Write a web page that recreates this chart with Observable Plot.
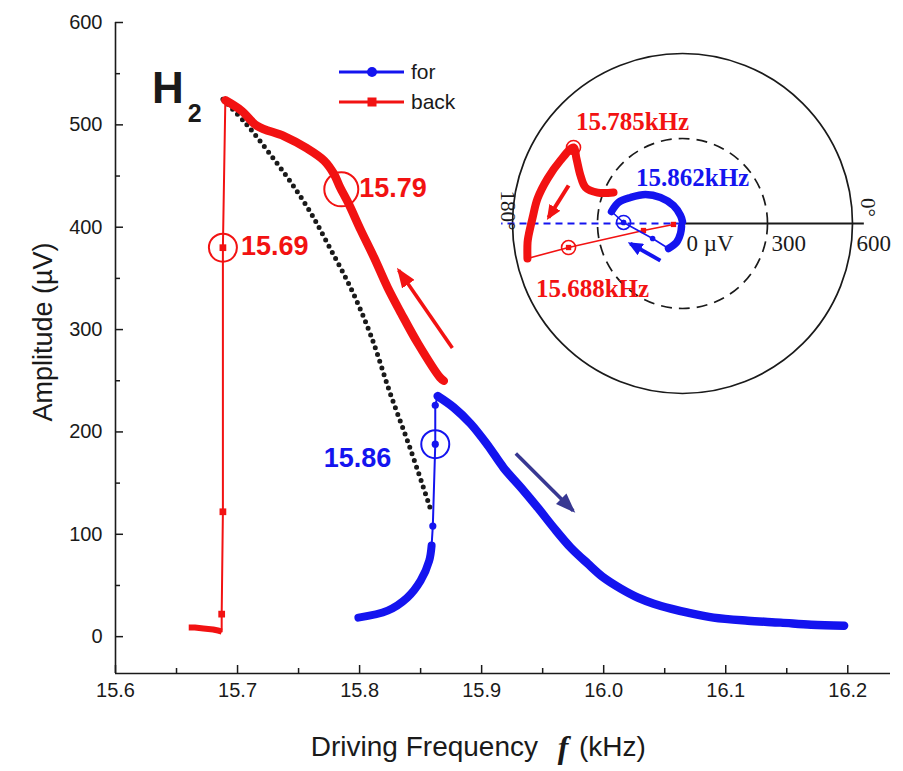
<!DOCTYPE html>
<html>
<head>
<meta charset="utf-8">
<script src="https://cdn.jsdelivr.net/npm/d3@7"></script>
<script src="https://cdn.jsdelivr.net/npm/@observablehq/plot@0.6"></script>
<style>
  body { margin: 0; background: #fff; }
  #chart { position: relative; width: 903px; height: 771px; font-family: "Liberation Sans", Arial, sans-serif; }
  #chart svg { position: absolute; left: 0; top: 0; }
</style>
</head>
<body>
<div id="chart"></div>
<script>
// ---- Frequency sweeps: driving frequency (kHz) and amplitude (µV) ----
// Forward sweep ("for"), increasing frequency
const forLowF  = [15.799, 15.823, 15.839, 15.850, 15.857, 15.859];
const forLowA  = [18.6, 25.4, 38, 54.7, 74, 89];
const forJumpF = [15.859, 15.860, 15.862, 15.862, 15.864];
const forJumpA = [89, 108, 188, 226, 235];
const forHighF = [15.864, 15.877, 15.891, 15.905, 15.918, 15.932, 15.946, 15.959, 15.973, 15.987,
                  16.000, 16.014, 16.028, 16.041, 16.055, 16.069, 16.090, 16.118, 16.145, 16.170, 16.197];
const forHighA = [235, 224, 208, 187, 165, 146, 126, 106.5, 87, 71.3,
                  57.6, 46.9, 38.1, 32.2, 27.4, 23.4, 18.6, 15.6, 13.7, 11.7, 10.7];

// Backward sweep ("back"), decreasing frequency
const backHighF = [15.869, 15.866, 15.848, 15.834, 15.823, 15.812, 15.801, 15.791, 15.784, 15.779,
                   15.771, 15.757, 15.738, 15.716, 15.703, 15.690];
const backHighA = [250, 253, 286, 316, 341, 370, 397, 423, 439, 452,
                   465, 477, 489, 499, 514, 524];
const backJumpF = [15.690, 15.688, 15.688, 15.687, 15.687];
const backJumpA = [524, 380, 122, 22, 5];
const backLowF  = [15.687, 15.684, 15.680, 15.672, 15.665, 15.660];
const backLowA  = [5, 6, 7, 8, 9, 9];

// Backbone curve (dotted)
const backboneF = [15.688, 15.707, 15.725, 15.743, 15.760, 15.776, 15.793, 15.809, 15.825, 15.842, 15.858];
const backboneA = [525, 501, 474, 445, 414, 379, 340, 295, 238, 182, 125];

// Jump points marked with open circles
const markF      = [15.688, 15.785, 15.862];
const markA      = [380, 437, 188];
const markLabel  = ["15.69", "15.79", "15.86"];
const markSeries = ["back", "back", "for"];

// Sweep-direction arrows (tail -> head)
const arrowF1 = [15.876, 15.928];
const arrowA1 = [282, 179];
const arrowF2 = [15.832, 15.975];
const arrowA2 = [358, 123];
const arrowSeries = ["back", "for"];

// Axis ticks
const xMajorTicks = [15.6, 15.7, 15.8, 15.9, 16.0, 16.1, 16.2];
const xMinorTicks = [15.65, 15.75, 15.85, 15.95, 16.05, 16.15];
const yMajorTicks = [0, 100, 200, 300, 400, 500, 600];
const yMinorTicks = [50, 150, 250, 350, 450, 550];

// ---- Polar inset: amplitude (µV) and phase (degrees) ----
const backPolarAmp   = [267, 319, 365, 398, 439, 469, 485, 502, 519, 530, 545, 551, 561];
const backPolarPhase = [155.8, 160.0, 159.6, 154.8, 148.5, 145.1, 152.7, 161.6, 170.2, 178.1, 184.5, 187.0, 192.7];
const backJumpPolarAmp   = [561, 411, 140, 32];
const backJumpPolarPhase = [192.7, 191.9, 190.2, 186];
const forLowPolarAmp    = [11, 36, 70, 101];
const forLowPolarPhase  = [251.6, 258.7, 252.5, 240.8];
const forJumpPolarAmp   = [101, 118, 208, 254];
const forJumpPolarPhase = [240.8, 206.6, 179.0, 170.4];
const forHighPolarAmp   = [254, 238, 205, 166, 120, 71, 29, 7];
const forHighPolarPhase = [170.4, 161.8, 153.4, 141.9, 130.2, 116.6, 104, 90];

const insetMarkAmp    = [469, 411, 208];
const insetMarkPhase  = [145.1, 191.9, 179.0];
const insetMarkLabel  = ["15.785kHz", "15.688kHz", "15.862kHz"];
const insetMarkSeries = ["back", "back", "for"];

// inset arrows in cartesian µV (tail -> head)
const insetArrowX1 = [-402, -78];
const insetArrowY1 = [134, -131];
const insetArrowX2 = [-473, -184];
const insetArrowY2 = [21, -71];
const insetArrowSeries = ["back", "for"];

const ringRadii = [300, 600];
const ringLabels = ["0 µV", "300", "600"];
const ringLabelRadii = [0, 300, 600];
const angleLabels = ["0°", "180°"];
const anglePhases = [0, 180];

// ---- styling ----
const RED = "#f21212", BLUE = "#1414ef", NAVY = "#383892", INK = "#1a1a1a";
const seriesColor = {back: RED, for: BLUE};
const arrowColor = {back: RED, for: NAVY};

const zip = (F, A) => F.map((f, i) => ({f, a: A[i]}));
const rad = Math.PI / 180;
const polar = (amp, ph) => amp.map((r, i) => ({x: r * Math.cos(ph[i] * rad), y: r * Math.sin(ph[i] * rad)}));

const forLow = zip(forLowF, forLowA), forJump = zip(forJumpF, forJumpA), forHigh = zip(forHighF, forHighA);
const backHigh = zip(backHighF, backHighA), backJump = zip(backJumpF, backJumpA), backLow = zip(backLowF, backLowA);
const backbone = zip(backboneF, backboneA);
const marked = markF.map((f, i) => ({f, a: markA[i], label: markLabel[i], series: markSeries[i]}));
const arrows = arrowF1.map((f, i) => ({f1: f, a1: arrowA1[i], f2: arrowF2[i], a2: arrowA2[i], series: arrowSeries[i]}));

// filled triangular arrow head used as a line marker
function filledHead(len, hw) {
  return (color, context) => {
    const doc = (context && context.document) || document;
    const ns = "http://www.w3.org/2000/svg";
    const m = doc.createElementNS(ns, "marker");
    m.setAttribute("viewBox", `${-len} ${-hw} ${len + 3} ${2 * hw}`);
    m.setAttribute("markerWidth", len + 3);
    m.setAttribute("markerHeight", 2 * hw);
    m.setAttribute("markerUnits", "userSpaceOnUse");
    m.setAttribute("refX", 0);
    m.setAttribute("refY", 0);
    m.setAttribute("orient", "auto");
    const p = doc.createElementNS(ns, "path");
    p.setAttribute("d", `M${-len},${-hw}L3,0L${-len},${hw}Z`);
    p.setAttribute("fill", color);
    m.appendChild(p);
    return m;
  };
}

// ---- main chart ----
const W = 903, H = 771;
const M = {top: 22, right: 13, bottom: 98, left: 115};
const innerW = W - M.left - M.right, innerH = H - M.top - M.bottom;
const xDomain = [15.6, 16.235];
const yDomain = [-36, 600];
const fmt1 = d => d.toFixed(1);
const MAJOR = 8, MINOR = 5;   // inward tick lengths

const main = Plot.plot({
  width: W, height: H,
  marginTop: M.top, marginRight: M.right, marginBottom: M.bottom, marginLeft: M.left,
  x: {domain: xDomain},
  y: {domain: yDomain},
  color: {type: "identity"},
  style: {fontFamily: "'Liberation Sans', Arial, sans-serif", fontSize: "20px", background: "transparent", overflow: "visible", color: INK},
  marks: [
    Plot.ruleX([xDomain[0]], {stroke: INK, strokeWidth: 1.6}),
    Plot.ruleY([yDomain[0]], {stroke: INK, strokeWidth: 1.6}),
    // inward ticks
    Plot.tickX(xMajorTicks, {x: d => d, insetTop: innerH - MAJOR, stroke: INK, strokeWidth: 1.5}),
    Plot.tickX(xMinorTicks, {x: d => d, insetTop: innerH - MINOR, stroke: INK, strokeWidth: 1.5}),
    Plot.tickY(yMajorTicks, {y: d => d, insetRight: innerW - MAJOR, stroke: INK, strokeWidth: 1.5}),
    Plot.tickY(yMinorTicks, {y: d => d, insetRight: innerW - MINOR, stroke: INK, strokeWidth: 1.5}),
    // tick labels
    Plot.axisX(xMajorTicks, {tickSize: 0, tickPadding: 9, tickFormat: fmt1, fontSize: 20, label: null}),
    Plot.axisY(yMajorTicks, {tickSize: 0, tickPadding: 13, fontSize: 20, label: null}),

    // backbone
    Plot.line(backbone, {x: "f", y: "a", stroke: INK, strokeWidth: 5, strokeDasharray: "0,7", strokeLinecap: "round", curve: "catmull-rom"}),

    // backward sweep
    Plot.line(backHigh, {x: "f", y: "a", stroke: RED, strokeWidth: 8.5, curve: "catmull-rom", strokeLinecap: "round", strokeLinejoin: "round"}),
    Plot.line(backJump, {x: "f", y: "a", stroke: RED, strokeWidth: 2}),
    Plot.dot(backJump.slice(1, 4), {x: "f", y: "a", symbol: "square", r: 3.8, fill: RED}),
    Plot.line(backLow, {x: "f", y: "a", stroke: RED, strokeWidth: 6, strokeLinecap: "butt"}),

    // forward sweep
    Plot.line(forLow, {x: "f", y: "a", stroke: BLUE, strokeWidth: 8, curve: "catmull-rom", strokeLinecap: "round"}),
    Plot.line(forJump, {x: "f", y: "a", stroke: BLUE, strokeWidth: 2}),
    Plot.dot(forJump.slice(1, 4), {x: "f", y: "a", r: 3.6, fill: BLUE}),
    Plot.line(forHigh, {x: "f", y: "a", stroke: BLUE, strokeWidth: 8.5, curve: "catmull-rom", strokeLinecap: "round"}),

    // circled jump points and their labels
    Plot.dot(marked, {filter: d => d.label !== "15.79", x: "f", y: "a", r: 14, stroke: d => seriesColor[d.series], fill: "none", strokeWidth: 2}),
    Plot.dot(marked, {filter: d => d.label === "15.79", x: "f", y: "a", r: 17, stroke: d => seriesColor[d.series], fill: "none", strokeWidth: 2}),
    Plot.text(marked, {filter: d => d.series === "back", x: "f", y: "a", text: "label", fill: RED, textAnchor: "start", dx: 18, dy: -1, fontSize: 27, fontWeight: "bold"}),
    Plot.text(marked, {filter: d => d.series === "for", x: "f", y: "a", text: "label", fill: BLUE, textAnchor: "end", dx: -44, dy: 14, fontSize: 27, fontWeight: "bold"}),

    // sweep direction arrows
    Plot.link(arrows, {x1: "f1", y1: "a1", x2: "f2", y2: "a2", stroke: d => arrowColor[d.series], strokeWidth: 3.6, markerEnd: filledHead(17, 7.5)}),

    // axis titles
    Plot.text(["Amplitude (µV)"], {frameAnchor: "left", textAnchor: "middle", lineAnchor: "middle", rotate: -90, dx: -72, dy: -16, fontSize: 27}),
    Plot.text(["Driving Frequency"], {frameAnchor: "bottom", textAnchor: "end", lineAnchor: "middle", dx: 35, dy: 74, fontSize: 28}),
    Plot.text(["f"], {frameAnchor: "bottom", textAnchor: "middle", lineAnchor: "middle", dx: 60, dy: 74, fontSize: 32, fontFamily: "'Liberation Serif', 'Times New Roman', serif", fontStyle: "italic", fontWeight: "bold"}),
    Plot.text(["(kHz)"], {frameAnchor: "bottom", textAnchor: "start", lineAnchor: "middle", dx: 76, dy: 74, fontSize: 28})
  ]
});

const chart = document.getElementById("chart");
chart.appendChild(main);

// H₂ tag and legend
const svg = d3.select(main);
const tag = svg.append("text")
  .attr("x", 152).attr("y", 103).attr("text-anchor", "start")
  .attr("font-size", 44).attr("font-weight", "bold").attr("fill", INK)
  .text("H");
tag.append("tspan").attr("dx", 4).attr("dy", 19).attr("font-size", 25).text("2");

const legendRows = [
  {name: "for", color: BLUE, symbol: "circle"},
  {name: "back", color: RED, symbol: "square"}
];
const legend = svg.append("g").attr("transform", "translate(339,72)").attr("font-size", 21).attr("fill", INK).attr("text-anchor", "start");
legendRows.forEach((row, i) => {
  const g = legend.append("g").attr("transform", `translate(0,${i * 30})`);
  g.append("line").attr("x1", 0).attr("x2", 65).attr("stroke", row.color).attr("stroke-width", 3);
  if (row.symbol === "circle") g.append("circle").attr("cx", 33).attr("r", 5).attr("fill", row.color);
  else g.append("rect").attr("x", 28.5).attr("y", -4.5).attr("width", 9).attr("height", 9).attr("fill", row.color);
  g.append("text").attr("x", 72).attr("dy", "0.35em").text(row.name);
});

// ---- polar inset ----
const R = 170;                      // pixel radius of the 600 µV ring
const IM = {top: 14, right: 60, bottom: 26, left: 30};
const center = {x: 682, y: 223};
const axisReach = 640;

const backPolar = polar(backPolarAmp, backPolarPhase);
const backJumpPolar = polar(backJumpPolarAmp, backJumpPolarPhase);
const forLowPolar = polar(forLowPolarAmp, forLowPolarPhase);
const forJumpPolar = polar(forJumpPolarAmp, forJumpPolarPhase);
const forHighPolar = polar(forHighPolarAmp, forHighPolarPhase);
const insetMarks = polar(insetMarkAmp, insetMarkPhase).map((p, i) => ({...p, label: insetMarkLabel[i], series: insetMarkSeries[i]}));
const insetArrows = insetArrowX1.map((x1, i) => ({x1, y1: insetArrowY1[i], x2: insetArrowX2[i], y2: insetArrowY2[i], series: insetArrowSeries[i]}));
const ringText = ringLabels.map((t, i) => ({t, r: ringLabelRadii[i]}));
const angleText = angleLabels.map((t, i) => ({t, ph: anglePhases[i]}));

const serif = "'Liberation Serif', 'Times New Roman', serif";
const inset = Plot.plot({
  width: IM.left + 2 * R + IM.right,
  height: IM.top + 2 * R + IM.bottom,
  marginTop: IM.top, marginRight: IM.right, marginBottom: IM.bottom, marginLeft: IM.left,
  x: {domain: [-600, 600], axis: null},
  y: {domain: [-600, 600], axis: null},
  r: {type: "linear", domain: [0, 600], range: [0, R]},
  color: {type: "identity"},
  style: {fontFamily: serif, background: "transparent", overflow: "visible", color: INK},
  marks: [
    Plot.dot(ringRadii.filter(r => r === 600), {x: () => 0, y: () => 0, r: d => d, stroke: INK, strokeWidth: 1.7, fill: "none"}),
    Plot.dot(ringRadii.filter(r => r === 300), {x: () => 0, y: () => 0, r: d => d, stroke: INK, strokeWidth: 1.7, fill: "none", strokeDasharray: "11,7"}),
    Plot.link([0], {x1: () => 0, y1: () => 0, x2: d => axisReach * Math.cos(d * rad), y2: d => axisReach * Math.sin(d * rad), stroke: INK, strokeWidth: 2}),
    Plot.link([180], {x1: () => 0, y1: () => 0, x2: d => axisReach * Math.cos(d * rad), y2: d => axisReach * Math.sin(d * rad), stroke: BLUE, strokeWidth: 2.2, strokeDasharray: "7,5"}),

    Plot.line(backPolar, {x: "x", y: "y", stroke: RED, strokeWidth: 8, curve: "catmull-rom", strokeLinejoin: "round"}),
    Plot.line(backJumpPolar, {x: "x", y: "y", stroke: RED, strokeWidth: 1.6}),
    Plot.dot(backJumpPolar.slice(1), {x: "x", y: "y", symbol: "square", r: 3, fill: RED}),

    Plot.line(forLowPolar, {x: "x", y: "y", stroke: BLUE, strokeWidth: 7.5, curve: "catmull-rom", strokeLinecap: "round"}),
    Plot.line(forJumpPolar, {x: "x", y: "y", stroke: BLUE, strokeWidth: 1.6}),
    Plot.dot(forJumpPolar.slice(1, 3), {x: "x", y: "y", r: 2.8, fill: BLUE}),
    Plot.line(forHighPolar, {x: "x", y: "y", stroke: BLUE, strokeWidth: 7.5, curve: "catmull-rom", strokeLinecap: "round"}),

    Plot.dot(insetMarks, {x: "x", y: "y", r: 7, stroke: d => seriesColor[d.series], strokeWidth: 1.6, fill: "none"}),
    Plot.dot(insetMarks, {x: "x", y: "y", r: 2.6, fill: d => seriesColor[d.series]}),

    Plot.link(insetArrows, {x1: "x1", y1: "y1", x2: "x2", y2: "y2", stroke: d => seriesColor[d.series], strokeWidth: 4, markerEnd: filledHead(12, 6.5)}),

    Plot.text(insetMarks, {filter: d => d.label === "15.785kHz", x: "x", y: "y", text: "label", fill: RED, dx: 59, dy: -25, fontSize: 25, fontWeight: "bold"}),
    Plot.text(insetMarks, {filter: d => d.label === "15.688kHz", x: "x", y: "y", text: "label", fill: RED, dx: 24, dy: 41, fontSize: 25, fontWeight: "bold"}),
    Plot.text(insetMarks, {filter: d => d.label === "15.862kHz", x: "x", y: "y", text: "label", fill: BLUE, dx: 69, dy: -44, fontSize: 25, fontWeight: "bold"}),

    Plot.text(ringText, {x: "r", y: () => 0, text: "t", textAnchor: "start", dx: 4, dy: 20, fontSize: 23, fill: INK}),
    Plot.text(angleText.filter(d => d.ph === 0), {x: d => 600 * Math.cos(d.ph * rad), y: d => 600 * Math.sin(d.ph * rad), text: "t", rotate: 90, dx: 15, dy: -16, fontSize: 21, fill: INK}),
    Plot.text(angleText.filter(d => d.ph === 180), {x: d => 600 * Math.cos(d.ph * rad), y: d => 600 * Math.sin(d.ph * rad), text: "t", rotate: 90, dx: -5, dy: -13, fontSize: 21, fill: INK})
  ]
});
inset.style.left = (center.x - IM.left - R) + "px";
inset.style.top = (center.y - IM.top - R) + "px";
chart.appendChild(inset);
</script>
</body>
</html>
